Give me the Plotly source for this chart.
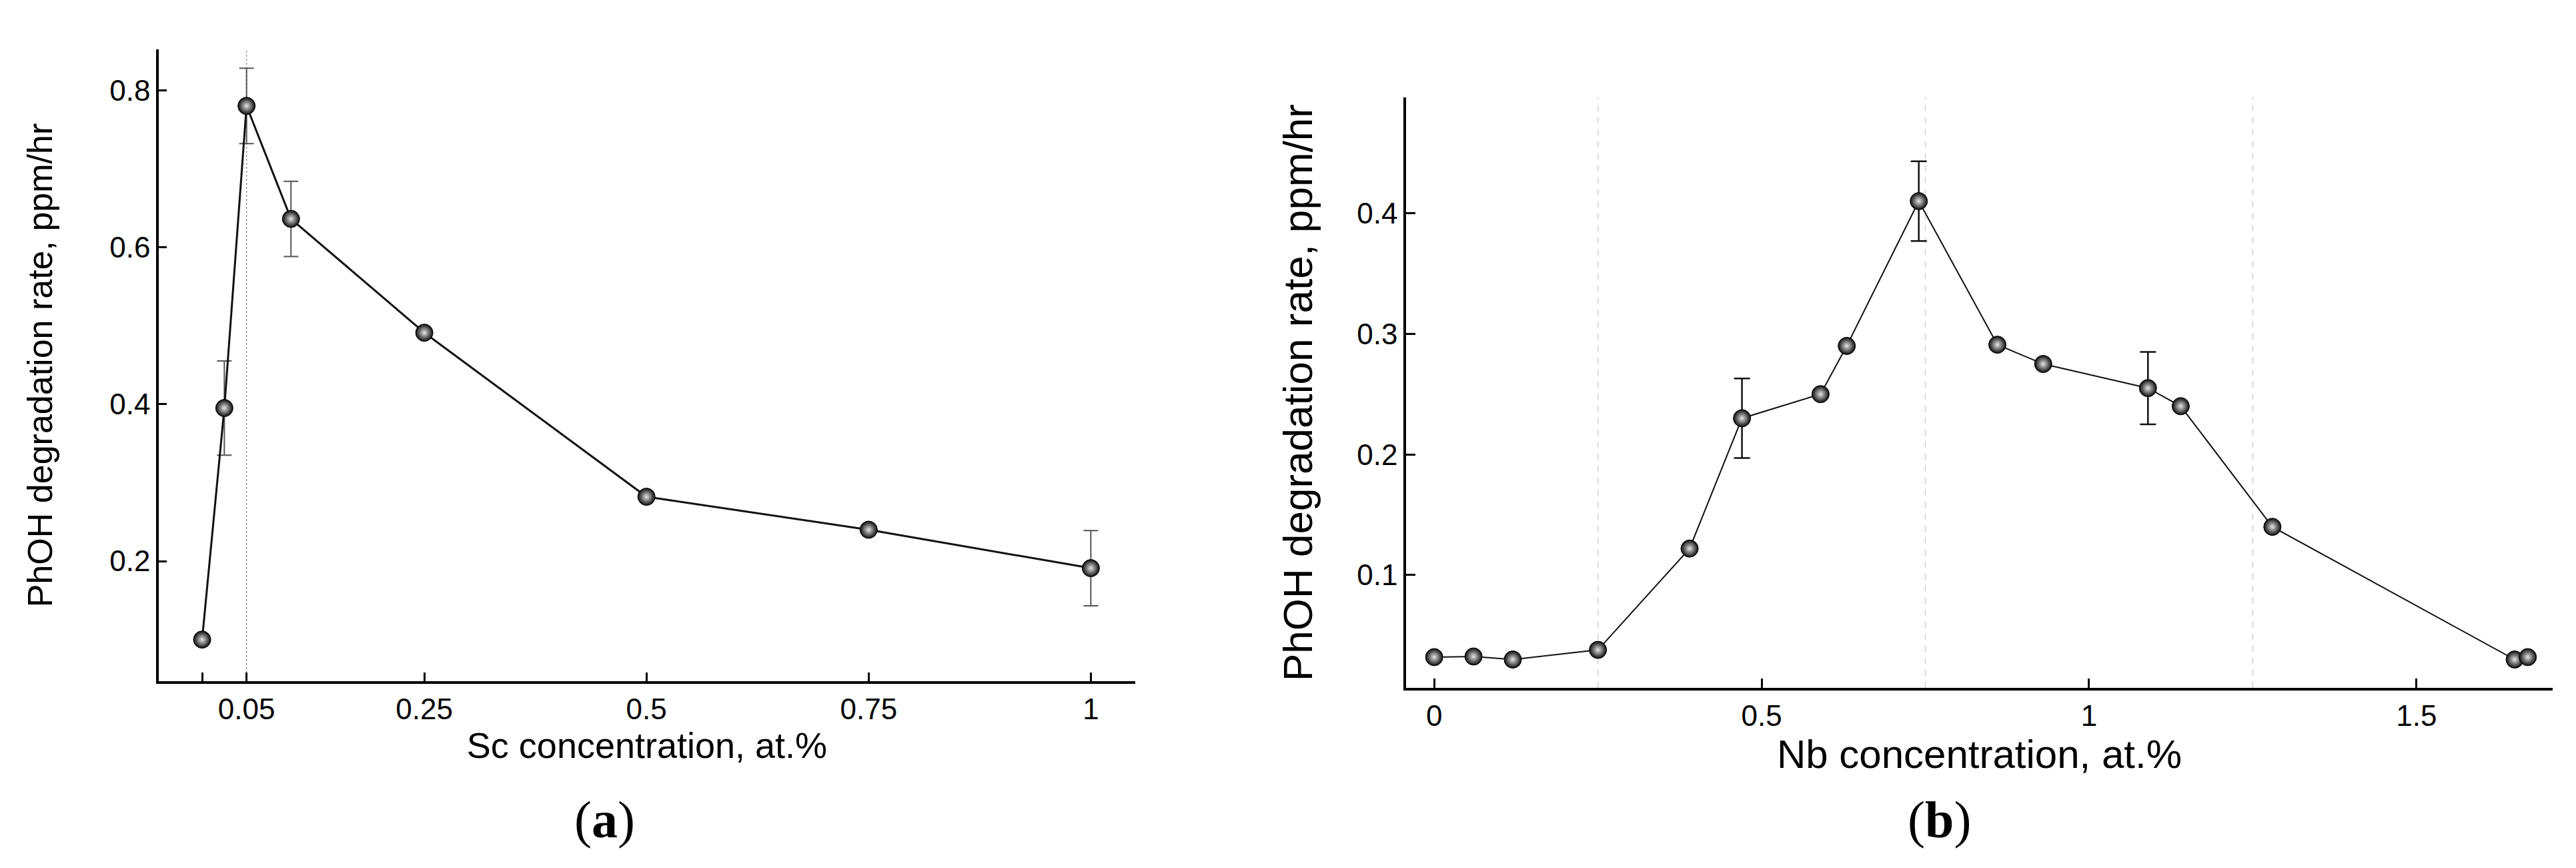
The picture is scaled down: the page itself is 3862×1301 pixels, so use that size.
import plotly.graph_objects as go

# ---- data ----
sc_x = [0.0, 0.025, 0.05, 0.1, 0.25, 0.5, 0.75, 1.0]
sc_rate = [0.100, 0.395, 0.780, 0.636, 0.491, 0.282, 0.240, 0.191]
sc_err = [None, 0.060, 0.048, 0.048, None, None, None, 0.048]
sc_tickvals = [0, 0.05, 0.25, 0.5, 0.75, 1]
sc_ticktext = ["", "0.05", "0.25", "0.5", "0.75", "1"]
sc_yticks = [0.2, 0.4, 0.6, 0.8]
sc_guides = [0.05]

nb_x = [0.0, 0.06, 0.12, 0.25, 0.39, 0.47, 0.59, 0.63, 0.74, 0.86, 0.93, 1.09, 1.14, 1.28, 1.65, 1.67]
nb_rate = [0.032, 0.0325, 0.030, 0.038, 0.122, 0.230, 0.250, 0.290, 0.410, 0.291, 0.275, 0.255, 0.240, 0.140, 0.030, 0.032]
nb_err = [None, None, None, None, None, 0.033, None, None, 0.033, None, None, 0.030, None, None, None, None]
nb_tickvals = [0, 0.5, 1, 1.5]
nb_ticktext = ["0", "0.5", "1", "1.5"]
nb_yticks = [0.1, 0.2, 0.3, 0.4]
nb_guides = [0.25, 0.75, 1.25]

FONT = "Liberation Sans, Arial, sans-serif"

ball = dict(size=26, color="#0a0a0a",
            gradient=dict(type="radial", color="#e6e6e6"),
            line=dict(color="#000000", width=1))

fig = go.Figure()

fig.add_trace(go.Scatter(
    x=sc_x, y=sc_rate, mode="lines+markers",
    line=dict(color="#111111", width=3),
    marker=ball,
    error_y=dict(type="data", array=sc_err, visible=True,
                 color="#555555", thickness=2, width=11),
    xaxis="x", yaxis="y", showlegend=False, cliponaxis=False))

fig.add_trace(go.Scatter(
    x=nb_x, y=nb_rate, mode="lines+markers",
    line=dict(color="#111111", width=2),
    marker=ball,
    error_y=dict(type="data", array=nb_err, visible=True,
                 color="#111111", thickness=2.5, width=12),
    xaxis="x2", yaxis="y2", showlegend=False, cliponaxis=False))

W, H = 3862, 1301
axis_common = dict(showline=True, linecolor="black", linewidth=3.5,
                   ticks="inside", tickcolor="black", tickwidth=3,
                   zeroline=False, showgrid=False, mirror=False,
                   tickfont=dict(family=FONT, size=44, color="black"))

shapes = []
for g in sc_guides:
    shapes.append(dict(type="line", xref="x", yref="y domain", x0=g, x1=g, y0=0, y1=1,
                       line=dict(color="#9a9a9a", width=1.5, dash="dot"), layer="below"))
for g in nb_guides:
    shapes.append(dict(type="line", xref="x2", yref="y2 domain", x0=g, x1=g, y0=0, y1=1,
                       line=dict(color="#d0d0d0", width=1.5, dash="dash"), layer="below"))

fig.update_layout(
    width=W, height=H,
    paper_bgcolor="white", plot_bgcolor="white",
    margin=dict(l=0, r=0, t=0, b=0),
    font=dict(family=FONT, color="black"),
    xaxis=dict(domain=[230 / W, 1694 / W], range=[-0.0488, 1.050],
               tickvals=sc_tickvals, ticktext=sc_ticktext, ticklen=13,
               title=dict(text="Sc concentration, at.%", font=dict(size=54, family=FONT), standoff=0),
               anchor="y", **axis_common),
    yaxis=dict(domain=[(H - 1013) / H, (H - 66) / H], range=[0.047, 0.852],
               tickvals=sc_yticks, ticklen=12,
               title=dict(text="PhOH degradation rate, ppm/hr", font=dict(size=52, family=FONT), standoff=70),
               anchor="x", **axis_common),
    xaxis2=dict(domain=[2100 / W, 3819 / W], range=[-0.043, 1.708],
                tickvals=nb_tickvals, ticktext=nb_ticktext, ticklen=14,
                title=dict(text="Nb concentration, at.%", font=dict(size=60, family=FONT), standoff=14),
                anchor="y2", **axis_common),
    yaxis2=dict(domain=[(H - 1023) / H, (H - 138) / H], range=[0.0065, 0.496],
                tickvals=nb_yticks, ticklen=14,
                title=dict(text="PhOH degradation rate, ppm/hr", font=dict(size=62, family=FONT), standoff=48),
                anchor="x2", **axis_common),
    shapes=shapes,
    annotations=[
        dict(text="(<b>a</b>)", x=898 / W, y=(H - 1220) / H, xref="paper", yref="paper",
             showarrow=False, font=dict(family="Liberation Serif, Times New Roman, serif", size=78, color="black"),
             xanchor="center", yanchor="middle"),
        dict(text="(<b>b</b>)", x=2899 / W, y=(H - 1220) / H, xref="paper", yref="paper",
             showarrow=False, font=dict(family="Liberation Serif, Times New Roman, serif", size=78, color="black"),
             xanchor="center", yanchor="middle"),
    ],
)

fig.write_html("out.html")
